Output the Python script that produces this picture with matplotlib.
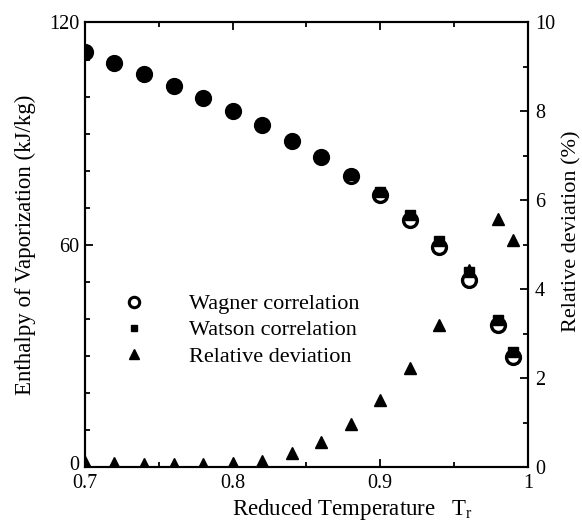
import matplotlib
matplotlib.use("Agg")
import matplotlib.pyplot as plt
from matplotlib.lines import Line2D
from matplotlib.ticker import MultipleLocator, FixedLocator

plt.rcParams['font.family'] = ['Liberation Serif', 'DejaVu Serif']

# reduced temperature
tr = [0.70, 0.72, 0.74, 0.76, 0.78, 0.80, 0.82, 0.84, 0.86, 0.88,
      0.90, 0.92, 0.94, 0.96, 0.98, 0.99]
# enthalpy of vaporization (kJ/kg)
wagner = [112.0, 109.0, 106.2, 102.9, 99.6, 96.1, 92.2, 87.9, 83.7, 78.6,
          73.4, 66.6, 59.4, 50.4, 38.3, 29.8]
watson = [112.0, 109.0, 106.2, 102.9, 99.6, 96.1, 92.2, 87.9, 83.7, 78.8,
          74.2, 68.0, 61.0, 52.7, 39.8, 31.1]
# relative deviation (%)
rel_dev = [0.12, 0.10, 0.07, 0.07, 0.07, 0.10, 0.15, 0.33, 0.57, 0.98,
           1.51, 2.24, 3.20, 4.44, 5.58, 5.11]
left_ticks = [0, 60, 120]
left_ticklabels = ["", "60", "120"]   # "0" is drawn separately below

fig = plt.figure(figsize=(5.82, 5.22), dpi=100)
ax = fig.add_axes([0.146, 0.105, 0.761, 0.852])
ax2 = ax.twinx()

ax.plot(tr, wagner, 'o', mfc='none', mec='black', mew=2.4, ms=10)
ax.plot(tr, watson, 's', color='black', ms=6.5)
ax2.plot(tr, rel_dev, '^', color='black', ms=9)

ax.set_xlim(0.7, 1.0)
ax.set_ylim(0, 120)
ax2.set_ylim(0, 10)

ax.xaxis.set_major_locator(FixedLocator([0.7, 0.8, 0.9, 1.0]))
ax.set_xticklabels(["0.7", "0.8", "0.9", "1"])
ax.xaxis.set_minor_locator(FixedLocator([0.75, 0.85, 0.95]))
ax.yaxis.set_major_locator(FixedLocator(left_ticks))
ax.set_yticklabels(left_ticklabels)
ax.yaxis.set_minor_locator(MultipleLocator(10))
ax2.yaxis.set_major_locator(MultipleLocator(2))
ax2.yaxis.set_minor_locator(MultipleLocator(1))

for a in (ax, ax2):
    a.tick_params(which='both', direction='in', labelsize=14.5, width=1.3)
    a.tick_params(which='major', length=6)
    a.tick_params(which='minor', length=3.5)
    for s in a.spines.values():
        s.set_linewidth(1.5)
ax.tick_params(axis='x', which='both', top=True, pad=5)
ax.tick_params(axis='y', pad=4)
ax2.tick_params(axis='y', pad=5)

# the left "0" sits on the corner, lifted a little so it clears "0.7"
ax.annotate("0", xy=(0, 0), xycoords=ax.get_yaxis_transform(),
            xytext=(-4, 3), textcoords='offset points',
            ha='right', va='center_baseline', fontsize=14.5)

ax.set_xlabel("Reduced Temperature   T$_\\mathregular{r}$", fontsize=16.5)
ax.xaxis.set_label_coords(0.605, -0.068)
ax.set_ylabel("Enthalpy of Vaporization (kJ/kg)", fontsize=16.5)
ax.yaxis.set_label_coords(-0.11, 0.5)
ax2.set_ylabel("Relative deviation (%)", fontsize=16)
ax2.yaxis.set_label_coords(1.078, 0.53)

# legend markers are drawn a bit smaller than the data marks
handles = [
    Line2D([], [], ls='none', marker='o', mfc='none', mec='black', mew=2.2, ms=7.5),
    Line2D([], [], ls='none', marker='s', color='black', ms=5),
    Line2D([], [], ls='none', marker='^', color='black', ms=7),
]
labels = ["Wagner correlation", "Watson correlation", "Relative deviation"]
ax.legend(handles, labels, loc='upper left', bbox_to_anchor=(0.04, 0.41),
          frameon=False, fontsize=16, handletextpad=1.5, labelspacing=0.25,
          borderaxespad=0)

fig.savefig("out.png", dpi=100)
